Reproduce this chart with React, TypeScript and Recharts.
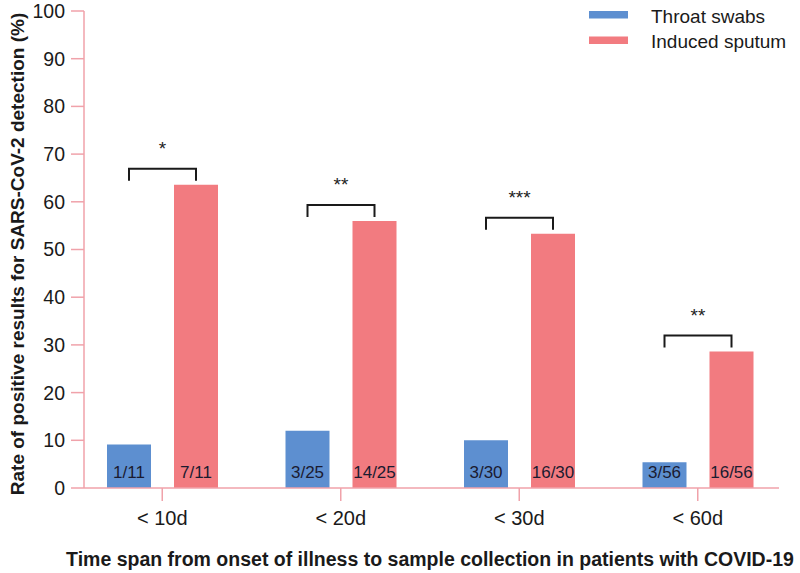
import React from 'react';
import { BarChart, Bar, XAxis, YAxis, Legend, LabelList, Label } from 'recharts';

const categories = ['< 10d', '< 20d', '< 30d', '< 60d'];
const throatSwabs = [9.1, 12.0, 10.0, 5.4];
const inducedSputum = [63.6, 56.0, 53.3, 28.6];
const throatLabels = ['1/11', '3/25', '3/30', '3/56'];
const sputumLabels = ['7/11', '14/25', '16/30', '16/56'];
const significance = ['*', '**', '***', '**'];
const yTicks = [0, 10, 20, 30, 40, 50, 60, 70, 80, 90, 100];
const seriesNames = ['Throat swabs', 'Induced sputum'];

const BLUE = '#5d8fd0';
const RED = '#f27b80';
const AXIS = '#f0a2aa';
const TEXT = '#1a1a1a';
const BAR_SIZE = 44;
const BAR_GAP = 23;
const FONT = '"Liberation Sans", Arial, Helvetica, sans-serif';

const data = categories.map((c, i) => ({
  category: c,
  throat: throatSwabs[i],
  sputum: inducedSputum[i],
  throatLabel: throatLabels[i],
  sputumLabel: sputumLabels[i],
  sig: significance[i],
}));

const InBarLabel = (props: any) => {
  const { x, y, width, height, value } = props;
  return (
    <text
      x={Number(x) + Number(width) / 2}
      y={Number(y) + Number(height) - 10.5}
      textAnchor="middle"
      fontSize={17}
      fill="#1b1b30"
      fontFamily={FONT}
    >
      {value}
    </text>
  );
};

const BracketLabel = (props: any) => {
  const { x, y, width, value } = props;
  const right = Number(x) + Number(width) / 2;
  const left = right - Number(width) - BAR_GAP;
  const top = Number(y) - 16;
  return (
    <g>
      <path
        d={`M${left},${top + 12} V${top} H${right} V${top + 12}`}
        stroke="#1a1a1a"
        strokeWidth={2}
        fill="none"
      />
      <text
        x={(left + right) / 2}
        y={top - 14}
        textAnchor="middle"
        fontSize={19}
        fill="#222"
        fontFamily={FONT}
      >
        {value}
      </text>
    </g>
  );
};

const LegendContent = () => (
  <svg width={211} height={60} style={{ display: 'block' }}>
    <rect x={0} y={11} width={39} height={7.5} fill={BLUE} />
    <text x={62} y={22.5} fontSize={19} fill={TEXT} fontFamily={FONT}>
      {seriesNames[0]}
    </text>
    <rect x={0} y={36.5} width={39} height={7.5} fill={RED} />
    <text x={62} y={47.5} fontSize={19} fill={TEXT} fontFamily={FONT}>
      {seriesNames[1]}
    </text>
  </svg>
);

export default function App() {
  return (
    <div
      style={{
        position: 'absolute',
        left: 0,
        top: 0,
        width: 800,
        height: 573,
        background: '#fff',
        fontFamily: FONT,
      }}
    >
      <BarChart
        width={800}
        height={573}
        data={data}
        margin={{ top: 11, right: 21, bottom: 25, left: 0 }}
        barSize={BAR_SIZE}
        barGap={BAR_GAP}
      >
        <XAxis
          dataKey="category"
          height={60}
          stroke={AXIS}
          strokeWidth={1.5}
          tickSize={13}
          tickMargin={10}
          padding={{ left: -11, right: -8 }}
          tick={{ fill: TEXT, fontSize: 20, fontFamily: FONT }}
          tickLine={{ stroke: AXIS }}
        >
          <Label
            content={() => (
              <text
                x={430}
                y={566}
                textAnchor="middle"
                fontSize={19.5}
                fontWeight="bold"
                fill={TEXT}
                fontFamily={FONT}
              >
                Time span from onset of illness to sample collection in patients with COVID-19
              </text>
            )}
          />
        </XAxis>
        <YAxis
          width={84}
          domain={[0, 100]}
          ticks={yTicks}
          interval={0}
          stroke={AXIS}
          strokeWidth={1.5}
          tickSize={13}
          tickMargin={6}
          tick={{ fill: TEXT, fontSize: 19.5, fontFamily: FONT }}
          tickLine={{ stroke: AXIS }}
        >
          <Label
            content={() => (
              <text
                x={24}
                y={254}
                transform="rotate(-90 24 254)"
                textAnchor="middle"
                fontSize={19}
                fontWeight="bold"
                fill={TEXT}
                fontFamily={FONT}
              >
                Rate of positive results for SARS-CoV-2 detection (%)
              </text>
            )}
          />
        </YAxis>
        <Legend
          layout="vertical"
          align="center"
          verticalAlign="middle"
          wrapperStyle={{ position: 'absolute', left: 589, top: 0, width: 211, height: 60 }}
          content={LegendContent}
        />
        <Bar dataKey="throat" name={seriesNames[0]} fill={BLUE} isAnimationActive={false}>
          <LabelList dataKey="throatLabel" content={InBarLabel} />
        </Bar>
        <Bar dataKey="sputum" name={seriesNames[1]} fill={RED} isAnimationActive={false}>
          <LabelList dataKey="sputumLabel" content={InBarLabel} />
          <LabelList dataKey="sig" content={BracketLabel} />
        </Bar>
      </BarChart>
    </div>
  );
}
